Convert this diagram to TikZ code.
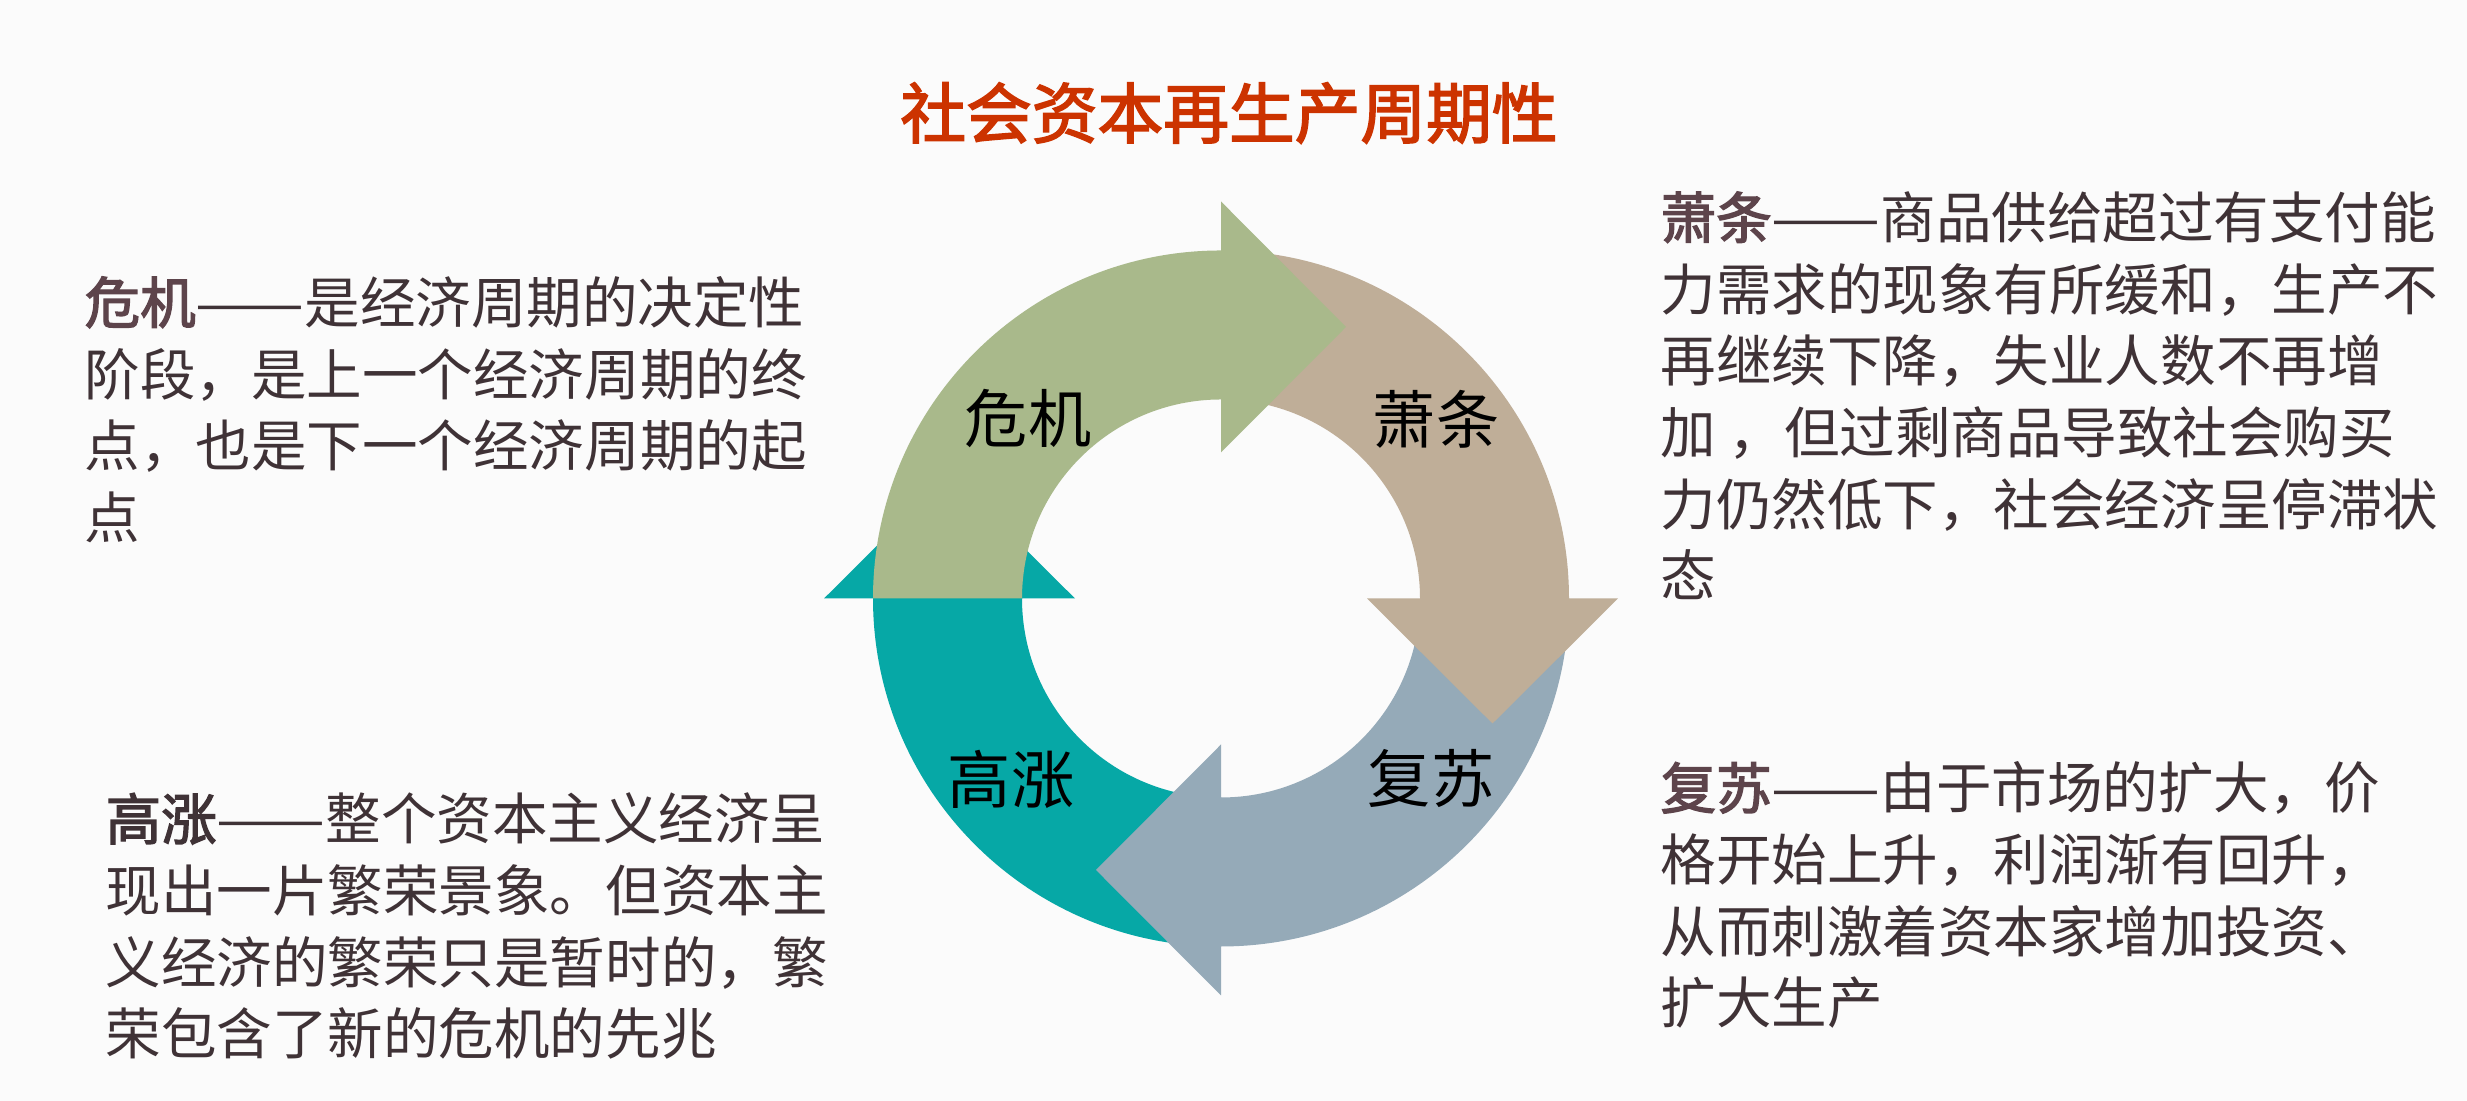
\documentclass[tikz,border=0pt]{standalone}
\usepackage{fontspec}
\usepackage{graphicx}
\newfontfamily\cjk[AutoFakeBold=2.5]{Noto Sans CJK SC}
\definecolor{cbg}{HTML}{FBFBFB}
\definecolor{cgreen}{HTML}{A9B98B}
\definecolor{ctan}{HTML}{BFAE98}
\definecolor{cblue}{HTML}{95AAB8}
\definecolor{cteal}{HTML}{06A8A6}
\definecolor{ctext}{HTML}{3F3236}
\definecolor{chead}{HTML}{5D444B}
\definecolor{ctitle}{HTML}{CC3300}
\newcommand{\hd}[2][chead]{{\bfseries\color{#1}#2}}
\newcommand{\dd}{\scalebox{1.17}[1]{——}}
\tikzset{
  body/.style={anchor=base west, inner sep=0pt, align=left, text=ctext,
    font=\cjk\fontsize{15.8pt}{20.4pt}\selectfont},
  ringlabel/.style={inner sep=0pt, text=black, font=\cjk\fontsize{18pt}{20pt}\selectfont},
  titlestyle/.style={inner sep=0pt, text=ctitle, font=\cjk\bfseries\fontsize{18.7pt}{22pt}\selectfont}
}
\begin{document}
\begin{tikzpicture}
\useasboundingbox[fill=cbg] (0,0) rectangle (24.67,11.01);
\coordinate (C) at (12.21,5.025);
\def\R{3.48}\def\r{1.99}
\begin{scope}[shift={(C)}]
  % teal (bottom -> left), arrow up
  \fill[cteal] (0,-\R) arc[start angle=270, end angle=180, radius=\R]
     -- (-3.97,0) -- (-2.715,1.25) -- (-1.46,0) -- (-\r,0)
     arc[start angle=180, end angle=270, radius=\r] -- cycle;
  % blue (right -> bottom), arrow left
  \fill[cblue] (\R,0) arc[start angle=0, end angle=-90, radius=\R]
     -- (0,-3.97) -- (-1.25,-2.715) -- (0,-1.46) -- (0,-\r)
     arc[start angle=-90, end angle=0, radius=\r] -- cycle;
  % tan (top -> right), arrow down
  \fill[ctan] (0,\R) arc[start angle=90, end angle=0, radius=\R]
     -- (3.97,0) -- (2.715,-1.25) -- (1.46,0) -- (\r,0)
     arc[start angle=0, end angle=90, radius=\r] -- cycle;
  % green (left -> top), arrow right
  \fill[cgreen] (-\R,0) arc[start angle=180, end angle=90, radius=\R]
     -- (0,3.97) -- (1.25,2.715) -- (0,1.46) -- (0,\r)
     arc[start angle=90, end angle=180, radius=\r] -- cycle;
\end{scope}

\node[titlestyle] (title) at (12.29,9.88) {社会资本再生产周期性};

\node[ringlabel] (l1) at (10.28,6.82) {危机};
\node[ringlabel] (l2) at (14.36,6.82) {萧条};
\node[ringlabel] (l3) at (10.11,3.22) {高涨};
\node[ringlabel] (l4) at (14.31,3.22) {复苏};

\node[body] (t1) at (0.84,5.625) {\hd{危机}\dd 是经济周期的决定性\\阶段，是上一个经济周期的终\\点，也是下一个经济周期的起\\点};
\node[body] (t2) at (16.60,5.04) {\hd{萧条}\dd 商品供给超过有支付能\\力需求的现象有所缓和，生产不\\再继续下降，失业人数不再增\\加 ，但过剩商品导致社会购买\\力仍然低下，社会经济呈停滞状\\态};
\node[body] (t3) at (1.05,0.46) {\hd[ctext]{高涨}\dd 整个资本主义经济呈\\现出一片繁荣景象。但资本主\\义经济的繁荣只是暂时的，繁\\荣包含了新的危机的先兆};
\node[body] (t4) at (16.60,0.77) {\hd{复苏}\dd 由于市场的扩大，价\\格开始上升，利润渐有回升，\\从而刺激着资本家增加投资、\\扩大生产};
\end{tikzpicture}
\end{document}
